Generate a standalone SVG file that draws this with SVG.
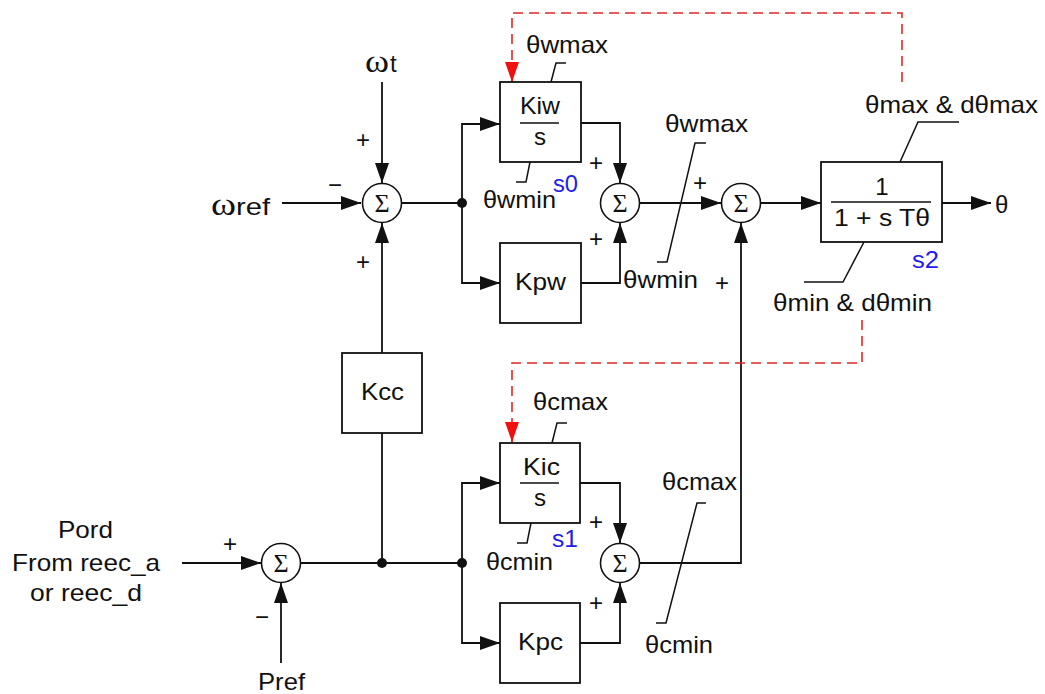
<svg xmlns="http://www.w3.org/2000/svg" width="1045" height="694" viewBox="0 0 1045 694">
<defs>
<marker id="ar" markerWidth="20" markerHeight="14" refX="20" refY="7" orient="auto" markerUnits="userSpaceOnUse"><path d="M0,0 L20,7 L0,14 z" fill="#111"/></marker>
<marker id="ard" markerWidth="20" markerHeight="14" refX="20" refY="7" orient="auto" markerUnits="userSpaceOnUse"><path d="M0,0 L20,7 L0,14 z" fill="#f01010"/></marker>
</defs>
<style>
.ln{fill:none;stroke:#111;stroke-width:1.8}
.lim{fill:none;stroke:#111;stroke-width:1.5}
.red{fill:none;stroke:#e02828;stroke-width:1.6;stroke-dasharray:10,6}
.box{fill:#fff;stroke:#111;stroke-width:1.8}
.sum{fill:#fff;stroke:#111;stroke-width:1.6}
.t{font-family:"Liberation Sans",Arial,sans-serif;font-size:24px;fill:#111}
.sg{font-family:"Liberation Serif","Times New Roman",serif;font-size:26px;fill:#111;text-anchor:middle}
.pm{font-family:"Liberation Sans",Arial,sans-serif;font-size:24px;fill:#111;text-anchor:middle}
.bl{font-family:"Liberation Sans",Arial,sans-serif;font-size:24px;fill:#2020e8}
.om{font-family:"Liberation Serif","Times New Roman",serif;font-size:32px;fill:#111}
</style>
<rect width="1045" height="694" fill="#fff"/>

<g id="connectors">
<path class="ln" d="M282,203 H361" marker-end="url(#ar)"/>
<path class="ln" d="M382,82 V183" marker-end="url(#ar)"/>
<path class="ln" d="M382,353 V223" marker-end="url(#ar)"/>
<path class="ln" d="M401,203 H462"/>
<path class="ln" d="M462,203 V124 H500" marker-end="url(#ar)"/>
<path class="ln" d="M462,203 V283 H500" marker-end="url(#ar)"/>
<path class="ln" d="M581,123 H620 V183" marker-end="url(#ar)"/>
<path class="ln" d="M581,283 H620 V223" marker-end="url(#ar)"/>
<path class="ln" d="M640,203 H721" marker-end="url(#ar)"/>
<path class="ln" d="M761,203 H821" marker-end="url(#ar)"/>
<path class="ln" d="M942,203 H991" marker-end="url(#ar)"/>
<path class="ln" d="M182,563 H261" marker-end="url(#ar)"/>
<path class="ln" d="M281,663 V583" marker-end="url(#ar)"/>
<path class="ln" d="M301,563 H462"/>
<path class="ln" d="M382,563 V433"/>
<path class="ln" d="M462,563 V483 H500" marker-end="url(#ar)"/>
<path class="ln" d="M462,563 V643 H500" marker-end="url(#ar)"/>
<path class="ln" d="M580,483 H620 V543" marker-end="url(#ar)"/>
<path class="ln" d="M580,643 H620 V583" marker-end="url(#ar)"/>
<path class="ln" d="M640,563 H741 V223" marker-end="url(#ar)"/>
<circle cx="462" cy="203" r="5" fill="#111"/>
<circle cx="382" cy="563" r="5" fill="#111"/>
<circle cx="462" cy="563" r="5" fill="#111"/>
<path class="red" d="M902,82 V13 H512 V62"/>
<path class="ln" d="M512,62 V82" style="stroke:#f01010" marker-end="url(#ard)"/>
<path class="red" d="M862,320 V363 H512 V422"/>
<path class="ln" d="M512,422 V442" style="stroke:#f01010" marker-end="url(#ard)"/>
<path class="lim" d="M551,82 L556,63 H566"/>
<path class="lim" d="M530,162 L526,182 H516"/>
<path class="lim" d="M657,262 H667 L695,143 H706"/>
<path class="lim" d="M900,162 L918,122 H959"/>
<path class="lim" d="M864,242 L843,282 H804"/>
<path class="lim" d="M552,443 L557,423 H567"/>
<path class="lim" d="M531,523 L527,543 H517"/>
<path class="lim" d="M656,623 H666 L697,503 H706"/>
</g>

<g id="sum1"><circle class="sum" cx="382" cy="203" r="19.5"/><text class="sg" x="382" y="212">Σ</text></g>
<g id="sum2"><circle class="sum" cx="620" cy="203" r="19.5"/><text class="sg" x="620" y="212">Σ</text></g>
<g id="sum3"><circle class="sum" cx="741" cy="203" r="19.5"/><text class="sg" x="741" y="212">Σ</text></g>
<g id="sum4"><circle class="sum" cx="281" cy="563" r="19.5"/><text class="sg" x="281" y="572">Σ</text></g>
<g id="sum5"><circle class="sum" cx="620" cy="563" r="19.5"/><text class="sg" x="620" y="572">Σ</text></g>

<g id="kiw"><rect class="box" x="500" y="82" width="81" height="80"/><text class="t" x="520" y="114" textLength="40" lengthAdjust="spacingAndGlyphs">Kiw</text><path class="lim" d="M520,123 H559"/><text class="t" x="534" y="145">s</text></g>
<g id="kpw"><rect class="box" x="500" y="243" width="81" height="80"/><text class="t" x="515" y="290" textLength="51" lengthAdjust="spacingAndGlyphs">Kpw</text></g>
<g id="s2"><rect class="box" x="821" y="162" width="121" height="80"/><text class="t" x="882" y="195" text-anchor="middle">1</text><path class="lim" d="M831,202 H931"/><text class="t" x="834" y="226" textLength="96" lengthAdjust="spacingAndGlyphs">1 + s Tθ</text></g>
<g id="kcc"><rect class="box" x="342" y="353" width="80" height="80"/><text class="t" x="361" y="400" textLength="43" lengthAdjust="spacingAndGlyphs">Kcc</text></g>
<g id="kic"><rect class="box" x="500" y="443" width="80" height="80"/><text class="t" x="523" y="475" textLength="37" lengthAdjust="spacingAndGlyphs">Kic</text><path class="lim" d="M520,483 H559"/><text class="t" x="534" y="506">s</text></g>
<g id="kpc"><rect class="box" x="500" y="603" width="80" height="80"/><text class="t" x="518" y="650" textLength="45" lengthAdjust="spacingAndGlyphs">Kpc</text></g>

<g id="labels">
<text x="365" y="72"><tspan class="om" textLength="24" lengthAdjust="spacingAndGlyphs">ω</tspan><tspan class="t" x="390">t</tspan></text>
<text x="211" y="215"><tspan class="om" textLength="25" lengthAdjust="spacingAndGlyphs">ω</tspan><tspan class="t" x="236" textLength="34" lengthAdjust="spacingAndGlyphs">ref</tspan></text>
<text class="t" x="58" y="538" textLength="55" lengthAdjust="spacingAndGlyphs">Pord</text>
<text class="t" x="12" y="571" textLength="148" lengthAdjust="spacingAndGlyphs">From reec_a</text>
<text class="t" x="30" y="601" textLength="112" lengthAdjust="spacingAndGlyphs">or reec_d</text>
<text class="t" x="258" y="690" textLength="47" lengthAdjust="spacingAndGlyphs">Pref</text>
<text class="t" x="526" y="53" textLength="82" lengthAdjust="spacingAndGlyphs">θwmax</text>
<text class="t" x="483" y="208" textLength="73" lengthAdjust="spacingAndGlyphs">θwmin</text>
<text class="bl" x="553" y="192" textLength="25" lengthAdjust="spacingAndGlyphs">s0</text>
<text class="t" x="665" y="132" textLength="83" lengthAdjust="spacingAndGlyphs">θwmax</text>
<text class="t" x="623" y="288" textLength="75" lengthAdjust="spacingAndGlyphs">θwmin</text>
<text class="t" x="995" y="213">θ</text>
<text class="t" x="865" y="113" textLength="173" lengthAdjust="spacingAndGlyphs">θmax &amp; dθmax</text>
<text class="t" x="773" y="311" textLength="159" lengthAdjust="spacingAndGlyphs">θmin &amp; dθmin</text>
<text class="bl" x="912" y="268" textLength="27" lengthAdjust="spacingAndGlyphs">s2</text>
<text class="t" x="533" y="410" textLength="75" lengthAdjust="spacingAndGlyphs">θcmax</text>
<text class="t" x="486" y="570" textLength="67" lengthAdjust="spacingAndGlyphs">θcmin</text>
<text class="bl" x="552" y="547" textLength="26" lengthAdjust="spacingAndGlyphs">s1</text>
<text class="t" x="662" y="490" textLength="75" lengthAdjust="spacingAndGlyphs">θcmax</text>
<text class="t" x="645" y="653" textLength="68" lengthAdjust="spacingAndGlyphs">θcmin</text>
<text class="pm" x="363" y="148">+</text>
<text class="pm" x="335" y="193">−</text>
<text class="pm" x="363" y="270">+</text>
<text class="pm" x="596" y="171">+</text>
<text class="pm" x="596" y="247">+</text>
<text class="pm" x="700" y="191">+</text>
<text class="pm" x="722" y="291">+</text>
<text class="pm" x="596" y="530">+</text>
<text class="pm" x="596" y="611">+</text>
<text class="pm" x="230" y="552">+</text>
<text class="pm" x="262" y="625">−</text>
</g>
</svg>
